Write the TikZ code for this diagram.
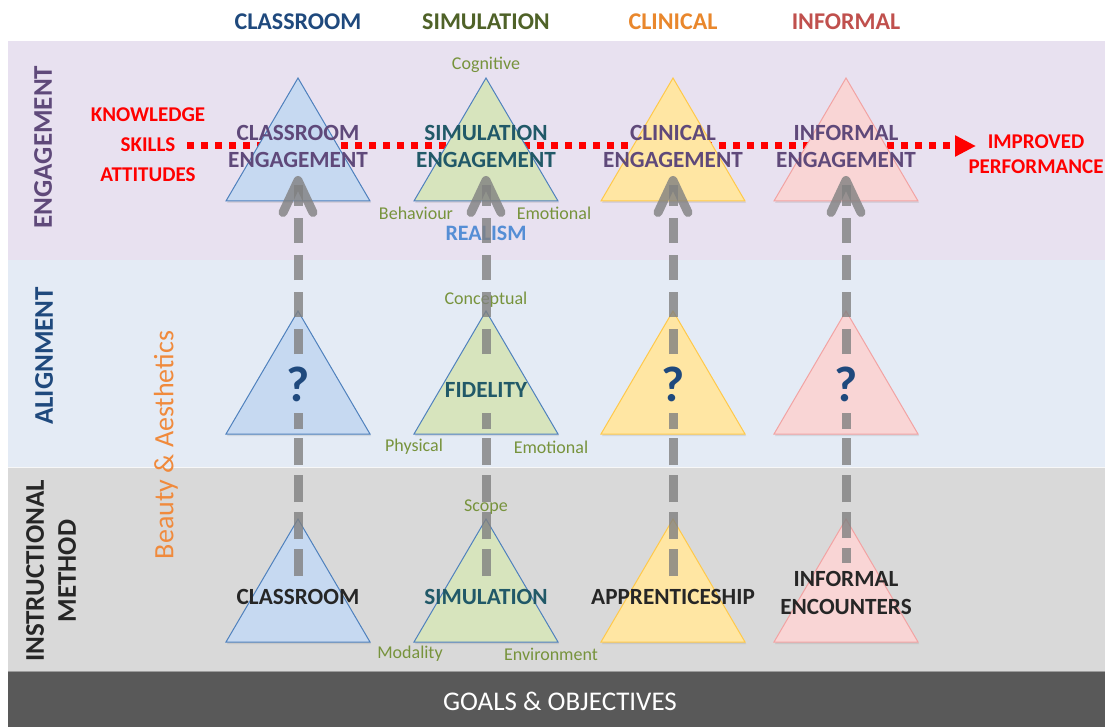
\documentclass[tikz,border=0pt]{standalone}
\usepackage{fontspec}
\setmainfont{Carlito}
\usetikzlibrary{arrows.meta,shadows}
\definecolor{bandeng}{HTML}{E8E1F0}
\definecolor{bandali}{HTML}{E4EBF5}
\definecolor{bandins}{HTML}{D9D9D9}
\definecolor{bandgoal}{HTML}{595959}
\definecolor{cblue}{HTML}{1F497D}
\definecolor{colive}{HTML}{4F6228}
\definecolor{corange}{HTML}{E9872C}
\definecolor{cinfred}{HTML}{C0504D}
\definecolor{cpurple}{HTML}{5F497A}
\definecolor{cteal}{HTML}{215968}
\definecolor{cdark}{HTML}{262626}
\definecolor{clabel}{HTML}{77933C}
\definecolor{crealism}{HTML}{558ED5}
\definecolor{cbeauty}{HTML}{F08A3C}
\definecolor{tblue}{HTML}{C6D9F1}
\definecolor{tblueline}{HTML}{4F81BD}
\definecolor{tgreen}{HTML}{D7E4BD}
\definecolor{tyellow}{HTML}{FFE6A3}
\definecolor{tyellowline}{HTML}{FFC94A}
\definecolor{tpink}{HTML}{F9D5D5}
\definecolor{tpinkline}{HTML}{F2A3A3}
\definecolor{arrowgray}{HTML}{808080}
\newcommand{\mytri}[3]{\path[#3] (#1,#2) -- ++(72,123) -- ++(-144,0) -- cycle;}
\begin{document}
\begin{tikzpicture}[x=1pt,y=-1pt,
  every node/.style={inner sep=0pt},
  hdr/.style={font=\fontsize{24}{28}\selectfont\bfseries},
  tritxt/.style={font=\fontsize{23.2}{27}\selectfont\bfseries, align=center},
  smalllbl/.style={font=\fontsize{18}{20}\selectfont, text=clabel},
  redtxt/.style={font=\fontsize{21}{30}\selectfont\bfseries, text=red, align=center},
  sidelbl/.style={font=\fontsize{27}{32}\selectfont\bfseries, rotate=90, align=center},
  qmark/.style={font=\fontsize{50}{54}\selectfont\bfseries, text=cblue},
  triblue/.style={fill=tblue, draw=tblueline, line width=1pt, drop shadow={opacity=0.18, shadow xshift=1pt, shadow yshift=-2pt}},
  trigreen/.style={fill=tgreen, draw=tblueline, line width=1pt, drop shadow={opacity=0.18, shadow xshift=1pt, shadow yshift=-2pt}},
  triyellow/.style={fill=tyellow, draw=tyellowline, line width=1pt, drop shadow={opacity=0.18, shadow xshift=1pt, shadow yshift=-2pt}},
  tripink/.style={fill=tpink, draw=tpinkline, line width=1pt, drop shadow={opacity=0.18, shadow xshift=1pt, shadow yshift=-2pt}},
  redline/.style={draw=red, line width=7pt, dash pattern=on 7pt off 7pt, -{Triangle[length=21pt,width=20pt]}},
  grayarrow/.style={draw=arrowgray, draw opacity=0.8, line width=9pt, -{Straight Barb[length=32pt,width=30pt,round]}},
  gpat/.style={dash pattern=on 27pt off 10pt on 27pt off 10pt on 27pt off 10pt on 27pt off 9pt on 16pt off 59pt on 25pt off 12pt on 25pt off 12pt on 25pt off 12pt on 25pt off 12pt on 25pt off 12pt},
  gpatb/.style={dash pattern=on 15pt off 10pt on 26pt off 10pt on 27pt off 10pt on 27pt off 9pt on 16pt off 59pt on 25pt off 12pt on 25pt off 12pt on 25pt off 12pt on 25pt off 12pt on 25pt off 12pt}
]
\useasboundingbox (0,0) rectangle (1105,727);
\fill[white] (0,0) rectangle (1105,727);
% bands
\fill[bandeng] (8,41) rectangle (1105,260);
\fill[bandali] (8,260) rectangle (1105,467);
\fill[bandins] (8,467) rectangle (1105,671);
\fill[bandgoal] (8,671) rectangle (1105,727);
\draw[white, line width=1pt, opacity=0.8] (8,467) -- (1105,467);
\draw[white, line width=1pt, opacity=0.4] (8,671) -- (1105,671);
% headers
\node[hdr, text=cblue] (hcl) at (298,22) {CLASSROOM};
\node[hdr, text=colive] (hsim) at (486,22) {SIMULATION};
\node[hdr, text=corange] (hcli) at (673,22) {CLINICAL};
\node[hdr, text=cinfred] (hinf) at (846,22) {INFORMAL};
% side labels
\node[sidelbl, text=cpurple] (leng) at (43,147) {ENGAGEMENT};
\node[sidelbl, text=cblue] (lali) at (44,356) {ALIGNMENT};
\node[sidelbl, text=cdark] (lins) at (51,571) {INSTRUCTIONAL\\METHOD};
\node[rotate=90, font=\fontsize{28}{32}\selectfont, text=cbeauty] (beauty) at (166,445) {Beauty \& Aesthetics};
% red knowledge line
\node[redtxt] (kst) at (148,145) {KNOWLEDGE\\SKILLS\\ATTITUDES};
\node[redtxt, font=\fontsize{21}{24.5}\selectfont\bfseries] (perf) at (1036,154) {IMPROVED\\PERFORMANCE};
\coordinate (rs) at (187,146);
\coordinate (re) at (976,146);
\draw[redline] (rs) -- (re);
% triangles
\mytri{298}{78}{triblue}
\mytri{486}{78}{trigreen}
\mytri{673}{78}{triyellow}
\mytri{846}{78}{tripink}
\mytri{298}{311}{triblue}
\mytri{486}{311}{trigreen}
\mytri{673}{311}{triyellow}
\mytri{846}{311}{tripink}
\mytri{298}{519}{triblue}
\mytri{486}{519}{trigreen}
\mytri{673}{519}{triyellow}
\mytri{846}{519}{tripink}
% engagement texts
\node[tritxt, text=cpurple] (ecl) at (298,146.5) {CLASSROOM\\ENGAGEMENT};
\node[tritxt, text=cteal] (esim) at (486,146.5) {SIMULATION\\ENGAGEMENT};
\node[tritxt, text=cpurple] (ecli) at (673,146.5) {CLINICAL\\ENGAGEMENT};
\node[tritxt, text=cpurple] (einf) at (846,146.5) {INFORMAL\\ENGAGEMENT};
\node[smalllbl] (cog) at (486,65) {Cognitive};
\node[smalllbl] (beh) at (416,213) {Behaviour};
\node[smalllbl] (emo1) at (554,213) {Emotional};
\node[font=\fontsize{22}{26}\selectfont\bfseries, text=crealism] (realism) at (486,233) {REALISM};
% alignment texts
\node[qmark] (q1) at (298,384) {?};
\node[tritxt, text=cteal] (fid) at (486,390) {FIDELITY};
\node[qmark] (q3) at (673,384) {?};
\node[qmark] (q4) at (846,384) {?};
\node[smalllbl] (conc) at (486,300) {Conceptual};
\node[smalllbl] (phys) at (414,447) {Physical};
\node[smalllbl] (emo2) at (551,447) {Emotional};
% instructional texts
\node[tritxt, text=cdark] (icl) at (298,597) {CLASSROOM};
\node[tritxt, text=cteal] (isim) at (486,597) {SIMULATION};
\node[tritxt, text=cdark] (icli) at (673,597) {APPRENTICESHIP};
\node[tritxt, text=cdark, font=\fontsize{23.2}{28}\selectfont\bfseries] (iinf) at (846,593) {INFORMAL\\ENCOUNTERS};
\node[smalllbl] (scope) at (486,507) {Scope};
\node[smalllbl] (moda) at (410,654) {Modality};
\node[smalllbl] (env) at (551,654) {Environment};
% goals
\node[font=\fontsize{27}{30}\selectfont, text=white] (goals) at (560,701) {GOALS \& OBJECTIVES};
% gray arrows
\coordinate (b1) at (298,576); \coordinate (t1) at (298,176);
\coordinate (b2) at (486,576); \coordinate (t2) at (486,176);
\coordinate (b3) at (673,576); \coordinate (t3) at (673,176);
\coordinate (b4) at (846,563); \coordinate (t4) at (846,176);
\draw[grayarrow, gpat] (b1) -- (t1);
\draw[grayarrow, gpat] (b2) -- (t2);
\draw[grayarrow, gpat] (b3) -- (t3);
\draw[grayarrow, gpatb] (b4) -- (t4);
\end{tikzpicture}
\end{document}
